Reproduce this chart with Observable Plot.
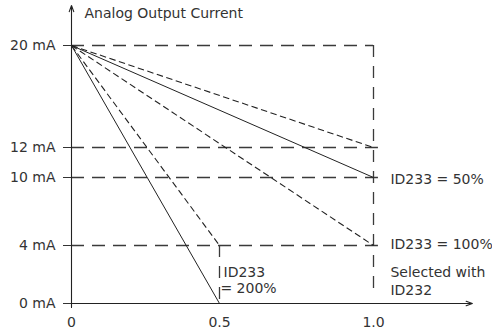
<!DOCTYPE html>
<html><head><meta charset="utf-8">
<script src="https://cdn.jsdelivr.net/npm/d3@7"></script>
<script src="https://cdn.jsdelivr.net/npm/@observablehq/plot@0.6"></script>
<style>body{margin:0;background:#fff}</style>
</head><body><div id="chart"></div>
<script>
const yTicks = [0, 4, 10, 12, 20];
const xTicks = [0, 0.5, 1.0];
const fullScale = 20;
const guideLevels = [12, 10, 4];
const solidLines = [
  {x1: 0, y1: 20, x2: 1.0, y2: 10},
  {x1: 0, y1: 20, x2: 0.5, y2: 0}
];
const dashedLines = [
  {x1: 0, y1: 20, x2: 1.0, y2: 12},
  {x1: 0, y1: 20, x2: 1.0, y2: 4},
  {x1: 0, y1: 20, x2: 0.5, y2: 4}
];
const verticalGuides = [
  {x: 1.0, y1: 20, y2: 0.69},
  {x: 0.5, y1: 4, y2: -0.15}
];
const axisExtent = {xMin: -0.027, xMax: 1.321, yMin: -0.28, yMax: 23.14};
const labels = [
  {x: 1.055, y: 9.82, text: "ID233 = 50%"},
  {x: 1.055, y: 4.09, text: "ID233 = 100%"},
  {x: 1.055, y: 2.14, text: "Selected with"},
  {x: 1.055, y: 0.9, text: "ID232"},
  {x: 0.513, y: 2.14, text: "ID233"},
  {x: 0.503, y: 1.03, text: "= 200%"}
];
const title = "Analog Output Current";

const plot = Plot.plot({
  width: 492, height: 333,
  marginLeft: 71, marginRight: 119, marginTop: 45, marginBottom: 30,
  style: {fontFamily: "'DejaVu Sans', sans-serif", fontSize: "14px", color: "#333", background: "#fff", overflow: "visible"},
  x: {type: "linear", domain: [0, 0.5, 1], range: [71, 219, 373]},
  y: {type: "linear", domain: [0, 4, 10, 12, 20], range: [303, 245, 177, 147, 45]},
  marks: [
    // guides
    Plot.ruleY([fullScale], {x1: 0, x2: 1.0, stroke: "#3a3a3a", strokeWidth: 1.3, strokeDasharray: "13,8"}),
    Plot.ruleY(guideLevels, {x1: 0, x2: 1.016, stroke: "#3a3a3a", strokeWidth: 1.3, strokeDasharray: "13,8"}),
    Plot.ruleX(verticalGuides, {x: "x", y1: "y1", y2: "y2", stroke: "#3a3a3a", strokeWidth: 1.3, strokeDasharray: "12,9"}),
    // curves
    Plot.link(solidLines, {x1: "x1", y1: "y1", x2: "x2", y2: "y2", stroke: "#222", strokeWidth: 1}),
    Plot.link(dashedLines, {x1: "x1", y1: "y1", x2: "x2", y2: "y2", stroke: "#222", strokeWidth: 1.1, strokeDasharray: "6.5,3.5"}),
    // axes
    Plot.arrow([0], {x1: 0, x2: 0, y1: axisExtent.yMin, y2: axisExtent.yMax, stroke: "#222", strokeWidth: 1.1, headLength: 9, headAngle: 40}),
    Plot.arrow([0], {x1: axisExtent.xMin, x2: axisExtent.xMax, y1: 0, y2: 0, stroke: "#222", strokeWidth: 1.1, headLength: 9, headAngle: 40}),
    Plot.axisY(yTicks, {tickFormat: d => d + " mA", tickSize: 8, tickPadding: 8, label: null, stroke: "#333", fill: "#333", fontSize: 14}),
    Plot.axisX(xTicks, {tickFormat: d => d === 0 ? "0" : d.toFixed(1), tickSize: 0, tickPadding: 14, label: null, fill: "#333", fontSize: 14}),
    Plot.text(labels, {x: "x", y: "y", text: "text", textAnchor: "start", fill: "#333", fontSize: 14}),
    Plot.text([title], {x: 0, y: axisExtent.yMax, dx: 13, dy: 8, text: d => d, textAnchor: "start", fill: "#333", fontSize: 14})
  ]
});
document.getElementById("chart").appendChild(plot);
</script>
</body></html>
